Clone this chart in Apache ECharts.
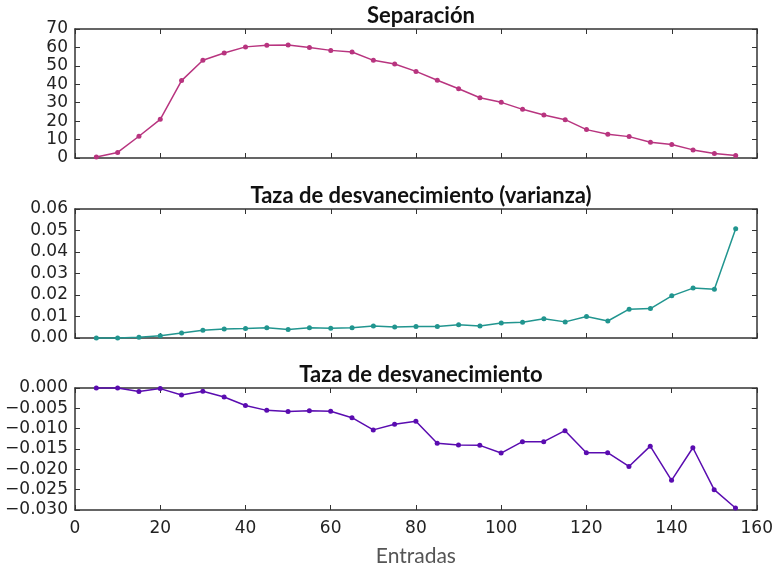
<!DOCTYPE html>
<html>
<head>
<meta charset="utf-8">
<script src="https://cdn.jsdelivr.net/npm/echarts@6/dist/echarts.min.js"></script>
<style>html,body{margin:0;padding:0;background:#fff;}#c{width:776px;height:568px;}</style>
</head>
<body>
<div id="c"></div>
<script>
var entradas = [5,10,15,20,25,30,35,40,45,50,55,60,65,70,75,80,85,90,95,100,105,110,115,120,125,130,135,140,145,150,155];
var separacion = [0.5,3,11.8,21,42,53,57,60.3,61.2,61.3,60,58.4,57.5,53,51,47,42.2,37.6,32.7,30.2,26.4,23.3,20.8,15.4,12.9,11.6,8.5,7.3,4.4,2.4,1.3];
var varianza = [0,0,0.0003,0.0011,0.0023,0.0036,0.0042,0.0044,0.0048,0.0040,0.0048,0.0045,0.0048,0.0056,0.0051,0.0053,0.0054,0.0062,0.0056,0.0070,0.0073,0.0090,0.0075,0.0100,0.0079,0.0134,0.0137,0.0196,0.0232,0.0227,0.0508];
var desvanecimiento = [0,0,-0.00085,-0.00015,-0.0017,-0.0008,-0.0022,-0.0043,-0.0055,-0.0058,-0.0056,-0.0057,-0.0073,-0.0103,-0.0089,-0.0082,-0.0136,-0.0140,-0.0141,-0.0160,-0.0132,-0.0132,-0.0105,-0.0159,-0.0159,-0.0193,-0.0143,-0.0227,-0.0147,-0.0250,-0.0295];
var titulos = ['Separación','Taza de desvanecimiento (varianza)','Taza de desvanecimiento'];
var xLabel = 'Entradas';
var colores = ['#b8347f','#21958f','#5a0cb0'];

function pairs(ys){ return entradas.map(function(x,i){return [x, ys[i]];}); }
function fmtMinus(v, d){ var s = Math.abs(v).toFixed(d); return (v < 0 ? '\u2212' : '') + s; }

var tickFont = "'DejaVu Sans', sans-serif";
var tickSize = 17;
var grids = [
  {left:75, top:29, width:682, height:129},
  {left:75, top:209, width:682, height:129},
  {left:75, top:388, width:682, height:130}
];
var yRanges = [
  {min:0, max:70, interval:10, fmt:function(v){return String(v);}},
  {min:0, max:0.06, interval:0.01, fmt:function(v){return fmtMinus(v,2);}},
  {min:-0.03, max:0, interval:0.005, fmt:function(v){return fmtMinus(v,3);}}
];
var lineStyle = {color:'#333', width:1.5};
var tickStyle = {color:'#333', width:1};
var xAxes = [], yAxes = [], series = [], titles = [];
for (var i = 0; i < 3; i++) {
  var last = (i === 2);
  xAxes.push({type:'value', gridIndex:i, min:0, max:160, interval:20, position:'bottom',
    axisLine:{show:true, onZero:false, lineStyle:lineStyle},
    axisTick:{show:true, inside:true, length:5, lineStyle:tickStyle},
    splitLine:{show:false},
    axisLabel:{show:last, color:'#222', fontFamily:tickFont, fontSize:tickSize, margin:10},
    name: last ? xLabel : '', nameLocation:'middle', nameGap:36,
    nameTextStyle:{color:'#555', fontFamily:'Lato', fontSize:21}
  });
  xAxes.push({type:'value', gridIndex:i, min:0, max:160, interval:20, position:'top',
    axisLine:{show:true, onZero:false, lineStyle:lineStyle},
    axisTick:{show:true, inside:true, length:5, lineStyle:tickStyle},
    splitLine:{show:false}, axisLabel:{show:false}
  });
  var r = yRanges[i];
  yAxes.push({type:'value', gridIndex:i, min:r.min, max:r.max, interval:r.interval, position:'left',
    axisLine:{show:true, onZero:false, lineStyle:lineStyle},
    axisTick:{show:true, inside:true, length:5, lineStyle:tickStyle},
    splitLine:{show:false},
    axisLabel:{show:true, color:'#222', fontFamily:tickFont, fontSize:tickSize, margin:7, formatter:r.fmt}
  });
  yAxes.push({type:'value', gridIndex:i, min:r.min, max:r.max, interval:r.interval, position:'right',
    axisLine:{show:true, onZero:false, lineStyle:lineStyle},
    axisTick:{show:true, inside:true, length:5, lineStyle:tickStyle},
    splitLine:{show:false}, axisLabel:{show:false}
  });
  titles.push({text:titulos[i], left:416, textAlign:'center', top:grids[i].top - 29,
    textStyle:{fontFamily:'Lato', fontWeight:'bold', fontSize:22, color:'#111'}});
}
var datos = [separacion, varianza, desvanecimiento];
for (var j = 0; j < 3; j++) {
  series.push({type:'line', xAxisIndex:2*j, yAxisIndex:2*j, data:pairs(datos[j]),
    symbol:'circle', symbolSize:5, lineStyle:{color:colores[j], width:1.5},
    itemStyle:{color:colores[j]}, animation:false, clip:false});
}
var chart = echarts.init(document.getElementById('c'));
chart.setOption({animation:false, title:titles, grid:grids, xAxis:xAxes, yAxis:yAxes, series:series});
</script>
</body>
</html>
